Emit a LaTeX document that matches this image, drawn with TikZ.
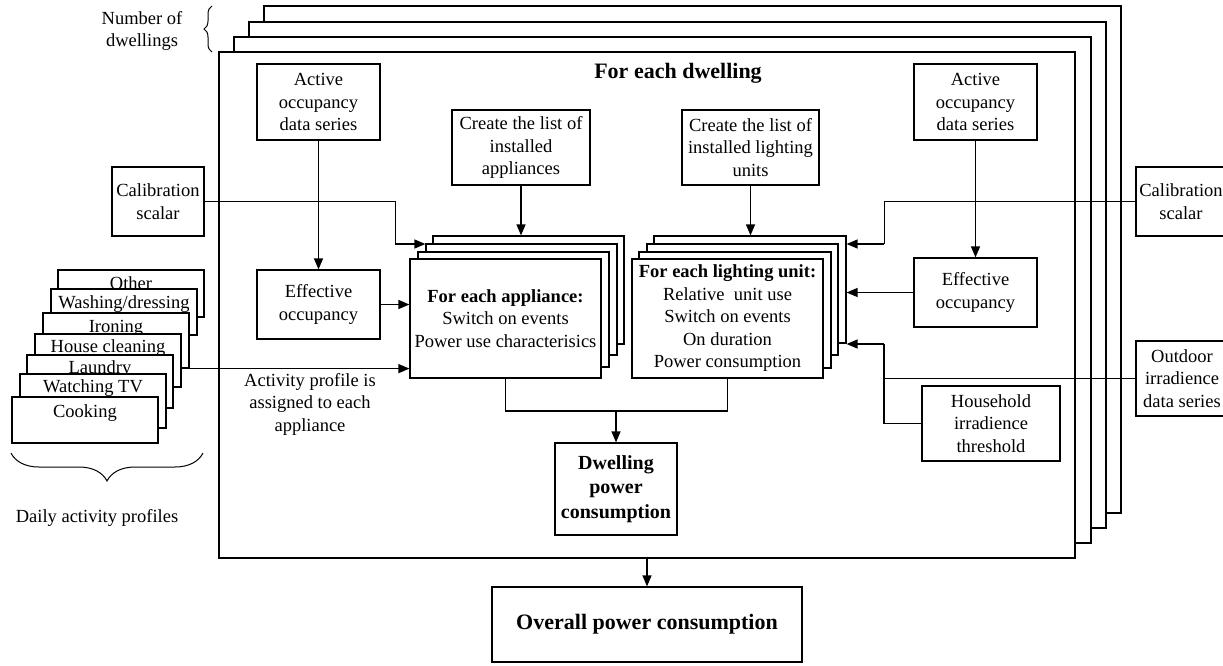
\documentclass[tikz,border=0pt]{standalone}
\usepackage{fontspec}
\setmainfont{Liberation Serif}
\usetikzlibrary{arrows.meta,decorations.pathreplacing,calc}
\newcommand\myfs{\fontsize{18.5}{22.5}\selectfont}
\begin{document}
\begin{tikzpicture}[x=1pt,y=-1pt,
  every node/.style={font=\myfs},
  box/.style={draw, line width=1.2pt, fill=white, align=center, inner sep=0pt},
  plain/.style={align=center, inner sep=0pt},
  ptext/.style={anchor=base, inner sep=0pt},
  arr/.style={line width=1.3pt, -{Triangle[length=11pt,width=9pt]}},
  thinln/.style={line width=1pt},
  ln/.style={line width=1.3pt},
  brc/.style={line width=1pt, decorate}]
\useasboundingbox (0,0) rectangle (1223,665);
\clip (0,0) rectangle (1223,665);

% dwelling stack
\node[box, minimum width=857pt, minimum height=507pt] (d4) at (692.5,259.5) {};
\node[box, minimum width=857pt, minimum height=506pt] (d3) at (677.5,275) {};
\node[box, minimum width=857pt, minimum height=506pt] (d2) at (662.5,290) {};
\node[box, minimum width=856pt, minimum height=506pt] (main) at (647,305) {};

\node[plain] (ndw) at (142,31) {Number of\\dwellings};
\draw[brc, decoration={brace, amplitude=8pt}] (212,52) -- (212,6);
\node[plain, font=\fontsize{22}{26}\selectfont\bfseries] (title) at (678,73) {For each dwelling};

% top boxes
\node[box, minimum width=123pt, minimum height=76pt] (aol) at (318.5,102) {Active\\occupancy\\data series};
\node[box, minimum width=138pt, minimum height=75pt] (cla) at (521,147.5) {Create the list of\\installed\\appliances};
\node[box, minimum width=137pt, minimum height=75pt] (cll) at (750.5,147.5) {Create the list of\\installed lighting\\units};
\node[box, minimum width=123pt, minimum height=76pt] (aor) at (975.5,102) {Active\\occupancy\\data series};

\node[box, minimum width=92pt, minimum height=69pt] (calL) at (158,201.5) {Calibration\\scalar};
\node[box, minimum width=90pt, minimum height=69pt] (calR) at (1181,201.5) {Calibration\\scalar};

\node[box, minimum width=123pt, minimum height=69pt] (eol) at (318.5,304.5) {Effective\\occupancy};
\node[box, minimum width=123pt, minimum height=69pt] (eor) at (975.5,292.5) {Effective\\occupancy};
\node[box, minimum width=138pt, minimum height=75pt] (hit) at (991,423.5) {Household\\irradience\\threshold};
\node[box, minimum width=92pt, minimum height=75pt] (oid) at (1182,378.5) {Outdoor\\irradience\\data series};

% appliance stack
\node[box, minimum width=191pt, minimum height=108pt] (ab) at (528.5,290) {};
\node[box, minimum width=191pt, minimum height=111pt] (a2) at (521.5,299.5) {};
\node[box, minimum width=191pt, minimum height=115pt] (a3) at (513.5,309.5) {};
\node[box, minimum width=191pt, minimum height=119pt] (appf) at (505.5,318.5) {\textbf{For each appliance:}\\Switch on events\\Power use characterisics};

% lighting stack
\node[box, minimum width=192pt, minimum height=107pt] (lb) at (750,289.5) {};
\node[box, minimum width=191pt, minimum height=111pt] (l2) at (742.5,299.5) {};
\node[box, minimum width=192pt, minimum height=116pt] (l3) at (735,310) {};
\node[box, minimum width=191pt, minimum height=119pt] (lf) at (727.5,318.5) {\textbf{For each lighting unit:}\\Relative~ unit use\\Switch on events\\On duration\\Power consumption};

\node[box, minimum width=122pt, minimum height=92pt, font=\fontsize{20}{24.5}\selectfont\bfseries] (dwell) at (616,489) {Dwelling\\power\\consumption};
\node[box, minimum width=310pt, minimum height=75pt, font=\fontsize{22}{26}\selectfont\bfseries] (overall) at (647,624.5) {Overall power consumption};

% activity profiles
\node[box, minimum width=146pt, minimum height=47pt] (pOther) at (131,293.5) {};
\node[ptext] (tOther) at (131,289) {Other};
\node[box, minimum width=146pt, minimum height=46pt] (pWash) at (124,312) {};
\node[ptext] (tWash) at (124,308) {Washing/dressing};
\node[box, minimum width=146pt, minimum height=55pt] (pIron) at (116,340.5) {};
\node[ptext] (tIron) at (116,332) {Ironing};
\node[box, minimum width=146pt, minimum height=53pt] (pHouse) at (108,360.5) {};
\node[ptext] (tHouse) at (108,352) {House cleaning};
\node[box, minimum width=146pt, minimum height=53pt] (pLaun) at (100,381.5) {};
\node[ptext] (tLaun) at (100,373) {Laundry};
\node[box, minimum width=146pt, minimum height=54pt] (pTV) at (93,401) {};
\node[ptext] (tTV) at (93,392) {Watching TV};
\node[box, minimum width=146pt, minimum height=46pt] (pCook) at (85,420) {};
\node[ptext] (tCook) at (85,417) {Cooking};

\draw[brc, decoration={brace, amplitude=28pt}] (203,453) -- (11,453);
\node[plain] (dap) at (97,518) {Daily activity profiles};
\node[plain] (apl) at (310,404) {Activity profile is\\assigned to each\\appliance};

% connectors
\draw[arr] (aol.south) -- (eol.north);
\draw[arr] (eol.east) -- (eol.east -| appf.west);
\draw[arr] (cla.south) -- (cla.south |- ab.north);
\draw[arr] (cll.south) -- (cll.south |- lb.north);
\draw[arr] (aor.south) -- (eor.north);
\draw[arr] (eor.west) -- (eor.west -| lb.east);

\coordinate (cl1) at (395,244);
\draw[thinln] (calL.east) -| (cl1);
\draw[arr] (cl1) -- (cl1 -| a2.west);
\coordinate (cr1) at (884,244);
\draw[thinln] (calR.west) -| (cr1);
\draw[arr] (cr1) -- (cr1 -| lb.east);

\coordinate (hr1) at (884,344);
\draw[ln] (hit.west) -| (hr1);
\draw[arr] (hr1) -- (hr1 -| lb.east);
\draw[thinln] (oid.west) -- (oid.west -| hr1);

\draw[arr] (pIron.south east) -- (pIron.south east -| appf.west);

\coordinate (mid) at (616,411);
\draw[ln] (appf.south) |- (mid) -| (lf.south);
\draw[arr] (mid) -- (dwell.north);
\draw[arr] (overall.north |- main.south) -- (overall.north);
\end{tikzpicture}
\end{document}
